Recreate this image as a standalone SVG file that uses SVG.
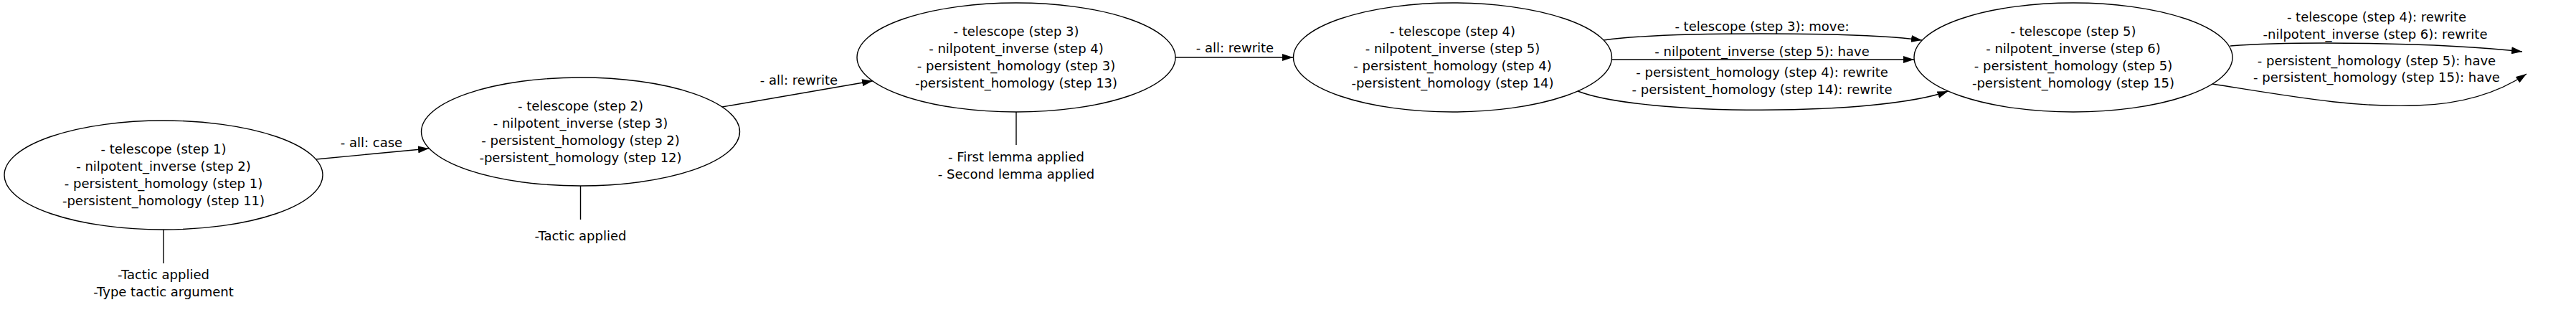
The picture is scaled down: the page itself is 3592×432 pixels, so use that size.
<svg xmlns="http://www.w3.org/2000/svg" width="3592" height="432" viewBox="0 0 3592 432">
<style>
text{font-family:"DejaVu Sans","Liberation Sans",sans-serif;font-size:18px;fill:#000;text-anchor:middle}
.node ellipse{fill:none;stroke:#000;stroke-width:1.4}
.edge{fill:none;stroke:#000;stroke-width:1.4}
.arr{marker-end:url(#ah)}
</style>
<defs>
<marker id="ah" markerUnits="userSpaceOnUse" viewBox="0 0 15 10" refX="15" refY="5" markerWidth="15" markerHeight="10" orient="auto">
<path d="M0,0 L15,5 L0,10 Z" fill="#000"/>
</marker>
</defs>
<rect width="3592" height="432" fill="#fff"/>
<g id="connectors">
<path class="edge arr" d="M440.5,222 L598,207"/>
<path class="edge arr" d="M1007,149 L1217,112.7"/>
<path class="edge arr" d="M1639,80 L1803,80"/>
<path class="edge arr" d="M2236,56 C2320,44 2590,44 2680,56"/>
<path class="edge arr" d="M2247.5,83 L2669,83"/>
<path class="edge arr" d="M2200,127 C2290,162 2620,162 2716.5,127"/>
<path class="edge arr" d="M3110,64 C3200,57 3400,59 3517,72"/>
<path class="edge arr" d="M3085,117 C3200,135 3280,150 3370,147 C3440,145 3490,125 3523,103"/>
<path class="edge" d="M228,320 L228,367"/>
<path class="edge" d="M809.5,259 L809.5,306"/>
<path class="edge" d="M1417,156 L1417,202"/>
<text x="518" y="205">- all: case</text>
<text x="1114" y="118">- all: rewrite</text>
<text x="1722" y="73">- all: rewrite</text>
<text x="2457" y="43">- telescope (step 3): move:</text>
<text x="2457" y="78">- nilpotent_inverse (step 5): have</text>
<text x="2457" y="107">- persistent_homology (step 4): rewrite</text>
<text x="2457" y="131">- persistent_homology (step 14): rewrite</text>
<text x="3314" y="30">- telescope (step 4): rewrite</text>
<text x="3312" y="54">-nilpotent_inverse (step 6): rewrite</text>
<text x="3314" y="91">- persistent_homology (step 5): have</text>
<text x="3314" y="114">- persistent_homology (step 15): have</text>
</g>
<g id="n1" class="node">
<ellipse cx="228" cy="244" rx="222" ry="76"/>
<text x="228" y="214">- telescope (step 1)</text>
<text x="228" y="238">- nilpotent_inverse (step 2)</text>
<text x="228" y="262">- persistent_homology (step 1)</text>
<text x="228" y="286">-persistent_homology (step 11)</text>
</g>
<g id="n2" class="node">
<ellipse cx="809.5" cy="183.5" rx="222" ry="75.5"/>
<text x="809.5" y="153.5">- telescope (step 2)</text>
<text x="809.5" y="177.5">- nilpotent_inverse (step 3)</text>
<text x="809.5" y="201.5">- persistent_homology (step 2)</text>
<text x="809.5" y="225.5">-persistent_homology (step 12)</text>
</g>
<g id="n3" class="node">
<ellipse cx="1417" cy="80" rx="222" ry="76"/>
<text x="1417" y="50">- telescope (step 3)</text>
<text x="1417" y="74">- nilpotent_inverse (step 4)</text>
<text x="1417" y="98">- persistent_homology (step 3)</text>
<text x="1417" y="122">-persistent_homology (step 13)</text>
</g>
<g id="n4" class="node">
<ellipse cx="2025.5" cy="80" rx="222" ry="76"/>
<text x="2025.5" y="50">- telescope (step 4)</text>
<text x="2025.5" y="74">- nilpotent_inverse (step 5)</text>
<text x="2025.5" y="98">- persistent_homology (step 4)</text>
<text x="2025.5" y="122">-persistent_homology (step 14)</text>
</g>
<g id="n5" class="node">
<ellipse cx="2891" cy="80" rx="222" ry="76"/>
<text x="2891" y="50">- telescope (step 5)</text>
<text x="2891" y="74">- nilpotent_inverse (step 6)</text>
<text x="2891" y="98">- persistent_homology (step 5)</text>
<text x="2891" y="122">-persistent_homology (step 15)</text>
</g>
<g id="a1">
<text x="228" y="389">-Tactic applied</text>
<text x="228" y="413">-Type tactic argument</text>
</g>
<g id="a2">
<text x="809.5" y="335">-Tactic applied</text>
</g>
<g id="a3">
<text x="1417" y="225">- First lemma applied</text>
<text x="1417" y="249">- Second lemma applied</text>
</g>
</svg>
